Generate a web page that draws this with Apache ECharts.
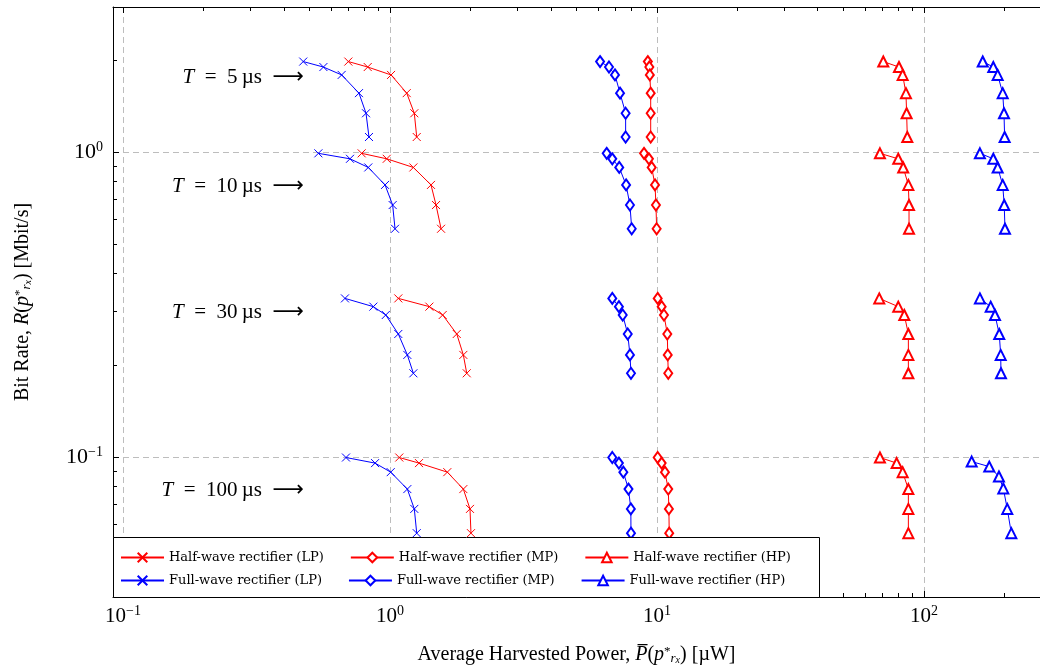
<html lang="en">
<head>
  <meta charset="utf-8">
  <title>Bit rate vs harvested power</title>
  <script src="https://cdn.jsdelivr.net/npm/echarts@6/dist/echarts.min.js"></script>
  <style>
    body { margin: 0; background: #fff; }
    #main { width: 1040px; height: 670px; }
  </style>
</head>
<body>
<div id="main"></div>
<script>
  // bit rate (Mbit/s) for each symbol period T
  var periods = ['5', '10', '30', '100'];
  var rateT5 = [1.98, 1.90, 1.79, 1.56, 1.34, 1.12];
  var rateT10 = [0.99, 0.95, 0.89, 0.78, 0.67, 0.56];
  var rateT30 = [0.331, 0.311, 0.292, 0.253, 0.216, 0.188];
  var rateT100 = [0.0995, 0.0954, 0.0891, 0.0784, 0.0675, 0.0562];
  var rateT100FwHp = [0.0965, 0.0929, 0.0862, 0.0788, 0.0675, 0.0562];

  // harvested power (uW), one row per T (5, 10, 30, 100 us)
  var hwLP = [
    [0.698, 0.825, 1.009, 1.155, 1.233, 1.259],
    [0.783, 0.972, 1.223, 1.424, 1.487, 1.553],
    [1.074, 1.404, 1.575, 1.778, 1.882, 1.938],
    [1.083, 1.284, 1.639, 1.882, 1.993, 2.01]
  ];
  var fwLP = [
    [0.473, 0.563, 0.659, 0.765, 0.813, 0.834],
    [0.539, 0.708, 0.829, 0.958, 1.023, 1.044],
    [0.678, 0.866, 0.964, 1.074, 1.161, 1.223],
    [0.684, 0.879, 1.006, 1.161, 1.233, 1.259]
  ];
  var hwMP = [
    [9.24, 9.36, 9.40, 9.47, 9.47, 9.47],
    [8.94, 9.33, 9.55, 9.83, 9.91, 9.97],
    [10.06, 10.41, 10.62, 10.93, 10.97, 11.02],
    [10.06, 10.41, 10.71, 11.02, 11.08, 11.11]
  ];
  var fwMP = [
    [6.12, 6.61, 6.96, 7.27, 7.63, 7.63],
    [6.48, 6.80, 7.22, 7.66, 7.92, 8.04],
    [6.80, 7.20, 7.44, 7.77, 7.92, 7.99],
    [6.80, 7.20, 7.48, 7.82, 7.98, 7.99]
  ];
  var hwHP = [
    [70.4, 80.6, 83.2, 85.6, 86.1, 86.6],
    [68.4, 80.1, 83.6, 87.4, 87.9, 87.9],
    [68.0, 80.1, 84.4, 87.4, 87.4, 87.4],
    [68.4, 79.0, 83.2, 87.4, 87.4, 87.4]
  ];
  var fwHP = [
    [166, 181.8, 188.8, 197.2, 199.4, 200.5],
    [162, 181.8, 188.8, 197.2, 199.8, 201.1],
    [162, 177.8, 184.5, 191.4, 193.8, 194.3],
    [150.9, 175.6, 190.9, 198.2, 205.1, 212.4]
  ];

  var xMajor = [0.1, 1, 10, 100];
  var xMinor = [0.2, 0.3, 0.4, 0.5, 0.6, 0.7, 0.8, 0.9, 2, 3, 4, 5, 6, 7, 8, 9,
    20, 30, 40, 50, 60, 70, 80, 90, 200];
  var yMajor = [0.1, 1];
  var yMinor = [0.04, 0.05, 0.06, 0.07, 0.08, 0.09, 0.2, 0.3, 0.4, 0.5, 0.6, 0.7, 0.8, 0.9, 2, 3];

  var RED = '#ff0000', BLUE = '#0000ff';
  var CROSS = 'path://M0,0L10,10M10,0L0,10';
  var SERIF = '"Liberation Serif", "DejaVu Serif", serif';

  function build(xs, isFwHp) {
    var rates = [rateT5, rateT10, rateT30, isFwHp ? rateT100FwHp : rateT100];
    var out = [];
    for (var g = 0; g < xs.length; g++) {
      for (var i = 0; i < xs[g].length; i++) {
        out.push([xs[g][i], rates[g][i]]);
      }
      out.push(['-', '-']);
    }
    return out;
  }

  function mkSeries(name, color, symbol, size, xs, isFwHp) {
    return {
      name: name,
      type: 'line',
      data: build(xs, isFwHp),
      symbol: symbol,
      symbolSize: size,
      connectNulls: false,
      lineStyle: { color: color, width: 1 },
      itemStyle: { color: color, borderColor: color, borderWidth: 1 },
      emphasis: { disabled: true },
      animation: false
    };
  }

  function powLabel(v) {
    var e = Math.round(Math.log10(v));
    return '10{sup|' + (e < 0 ? '\u2212' + (-e) : e) + '}';
  }

  var tickRich = {
    sup: { fontSize: 14, fontFamily: SERIF, color: '#000', verticalAlign: 'top', padding: [0, 0, 10, 0] }
  };
  var nameRich = {
    i: { fontFamily: SERIF, fontSize: 20, fontStyle: 'italic', color: '#000' },
    sup: { fontFamily: SERIF, fontSize: 13, verticalAlign: 'top', color: '#000' },
    sub: { fontFamily: SERIF, fontSize: 13, fontStyle: 'italic', verticalAlign: 'bottom', color: '#000' },
    ssub: { fontFamily: SERIF, fontSize: 10, fontStyle: 'italic', verticalAlign: 'bottom', color: '#000' }
  };
  var noteRich = {
    i: { fontStyle: 'italic', fontFamily: SERIF, fontSize: 21, fill: '#000' },
    a: { fontFamily: '"DejaVu Sans", sans-serif', fontSize: 22, fill: '#000' }
  };
  var legendText = { fontFamily: '"DejaVu Serif", serif', fontSize: 13, color: '#000' };

  function note(label, top) {
    return {
      type: 'text', right: 1040 - 304, top: top, z: 10,
      style: { text: '{i|T}\u2002=\u2002' + label + '\u2009\u00b5s\u2002{a|\u27f6}', font: '21px ' + SERIF, fill: '#000', rich: noteRich }
    };
  }

  var chart = echarts.init(document.getElementById('main'));
  chart.setOption({
    backgroundColor: '#fff',
    animation: false,
    grid: { left: 113, right: 0, top: 7, bottom: 73 },
    xAxis: [
      {
        type: 'log', position: 'bottom', min: 0.0917, max: 272,
        axisLine: { lineStyle: { color: '#000', width: 1 } },
        axisTick: { inside: true, length: 6, customValues: xMajor, lineStyle: { color: '#000' } },
        axisLabel: {
          customValues: xMajor, formatter: powLabel, margin: 7,
          fontFamily: SERIF, fontSize: 21, color: '#000', rich: tickRich
        },
        splitLine: { show: true, lineStyle: { color: '#bdbdbd', type: [6, 4], width: 1 } },
        name: 'Average Harvested Power, {i|P\u0305}({i|p}{sup|*}{sub|r}{ssub|x}) [\u00b5W]',
        nameLocation: 'middle', nameGap: 48,
        nameTextStyle: { fontFamily: SERIF, fontSize: 20, color: '#000', rich: nameRich }
      },
      {
        type: 'log', position: 'bottom', min: 0.0917, max: 272,
        axisLine: { show: false }, axisLabel: { show: false }, splitLine: { show: false },
        axisTick: { inside: true, length: 4, customValues: xMinor, lineStyle: { color: '#000' } }
      },
      {
        type: 'log', position: 'top', min: 0.0917, max: 272,
        axisLine: { lineStyle: { color: '#000', width: 1 } }, axisLabel: { show: false }, splitLine: { show: false },
        axisTick: { inside: true, length: 6, customValues: xMajor, lineStyle: { color: '#000' } }
      },
      {
        type: 'log', position: 'top', min: 0.0917, max: 272,
        axisLine: { show: false }, axisLabel: { show: false }, splitLine: { show: false },
        axisTick: { inside: true, length: 4, customValues: xMinor, lineStyle: { color: '#000' } }
      }
    ],
    yAxis: [
      {
        type: 'log', position: 'left', min: 0.0347, max: 2.99,
        axisLine: { show: true, lineStyle: { color: '#000', width: 1 } },
        axisTick: { show: true, inside: true, length: 6, customValues: yMajor, lineStyle: { color: '#000' } },
        axisLabel: {
          customValues: yMajor, formatter: powLabel, margin: 10,
          fontFamily: SERIF, fontSize: 22, color: '#000', rich: tickRich
        },
        splitLine: { show: true, lineStyle: { color: '#bdbdbd', type: [6, 4], width: 1 } },
        name: 'Bit Rate, {i|R}({i|p}{sup|*}{sub|r}{ssub|x}) [Mbit/s]',
        nameLocation: 'middle', nameGap: 80,
        nameTextStyle: { fontFamily: SERIF, fontSize: 20, color: '#000', rich: nameRich }
      },
      {
        type: 'log', position: 'left', min: 0.0347, max: 2.99,
        axisLine: { show: false }, axisLabel: { show: false }, splitLine: { show: false },
        axisTick: { show: true, inside: true, length: 4, customValues: yMinor, lineStyle: { color: '#000' } }
      }
    ],
    legend: [
      {
        data: ['Half-wave rectifier (LP)', 'Half-wave rectifier (MP)', 'Half-wave rectifier (HP)'],
        left: 120, top: 551, padding: 0, itemWidth: 43, itemHeight: 12, itemGap: 26, z: 20,
        textStyle: legendText
      },
      {
        data: ['Full-wave rectifier (LP)', 'Full-wave rectifier (MP)', 'Full-wave rectifier (HP)'],
        left: 120, top: 574, padding: 0, itemWidth: 43, itemHeight: 12, itemGap: 26, z: 20,
        textStyle: legendText
      }
    ],
    graphic: [
      {
        type: 'rect', z: 10, silent: true,
        shape: { x: 113.5, y: 537.5, width: 706, height: 60 },
        style: { fill: '#fff', stroke: '#000', lineWidth: 1 }
      },
      note('5', 66),
      note('10', 175),
      note('30', 301),
      note('100', 479)
    ],
    series: [
      mkSeries('Half-wave rectifier (LP)', RED, CROSS, 8, hwLP),
      mkSeries('Half-wave rectifier (MP)', RED, 'emptyDiamond', [8, 11], hwMP),
      mkSeries('Half-wave rectifier (HP)', RED, 'emptyTriangle', 10, hwHP),
      mkSeries('Full-wave rectifier (LP)', BLUE, CROSS, 8, fwLP),
      mkSeries('Full-wave rectifier (MP)', BLUE, 'emptyDiamond', [8, 11], fwMP),
      mkSeries('Full-wave rectifier (HP)', BLUE, 'emptyTriangle', 10, fwHP, true)
    ]
  });
</script>
</body>
</html>
